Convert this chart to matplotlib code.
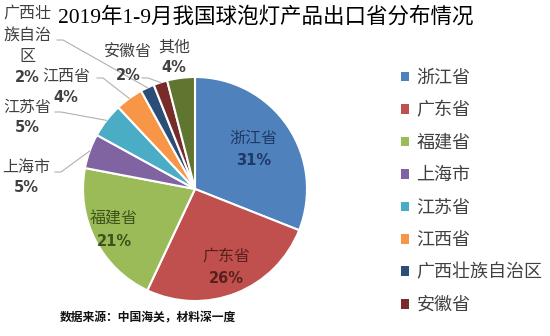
import matplotlib.pyplot as plt
import numpy as np
from matplotlib.patches import Patch
from matplotlib.lines import Line2D

CJK = ['Noto Sans CJK SC', 'DejaVu Sans']
TITLE_FONT = ['Liberation Serif', 'Noto Sans CJK SC']
plt.rcParams['font.family'] = CJK

W, H = 550, 336

# export share by province, Jan-Sep 2019 (%)
provinces = ['浙江省', '广东省', '福建省', '上海市', '江苏省', '江西省',
             '广西壮族自治区', '安徽省', '其他']
shares = [31, 26, 21, 5, 5, 4, 2, 2, 4]
colors = ['#4F81BD', '#C0504D', '#9BBB59', '#8064A2', '#4BACC6', '#F79646',
          '#2C4D75', '#772C2A', '#5F7530']
label_colors = ['#1F3864', '#5A1F1D', '#3E5219']


def px(x, y):
    """pixel position (top-left origin) -> figure fraction"""
    return x / W, 1 - y / H


fig = plt.figure(figsize=(W / 100, H / 100), dpi=100)
fig.patch.set_facecolor('white')

# pie centred at (195, 189) px, radius 112 px
cx, cy, r = 195, 189, 112
ax = fig.add_axes([(cx - r) / W, (H - cy - r) / H, 2 * r / W, 2 * r / H])
wedges, _ = ax.pie(shares, colors=colors, startangle=90, counterclock=False,
                   wedgeprops=dict(edgecolor='white', linewidth=1.5))
ax.set_xlim(-1, 1)
ax.set_ylim(-1, 1)
ax.set_aspect('equal')
ax.axis('off')

mid = [np.deg2rad((w.theta1 + w.theta2) / 2) for w in wedges]

# labels inside the three big slices
inner_r = [0.63, 0.75, 0.81]
for i, rr in enumerate(inner_r):
    x, y = rr * np.cos(mid[i]), rr * np.sin(mid[i])
    ax.text(x, y + 0.1, provinces[i], ha='center', va='center',
            fontsize=11.5, color=label_colors[i])
    ax.text(x, y - 0.1, f'{shares[i]}%', ha='center', va='center',
            fontsize=10.5, fontweight='bold', color=label_colors[i],
            family='DejaVu Sans')

# outside labels: (centre x, name line ys, pct y, leader start or None)
outside = {
    3: (26, [167], 188, (55, 172)),
    4: (27, [107], 127, (55, 112)),
    5: (66, [76], 97, (97, 78)),
    6: (27, [13, 35, 56], 78, (57, 40)),
    7: (128, [52], 75, (142, 78)),
    8: (174, [47], 67, None),
}
name_lines = {6: ['广西壮', '族自治', '区']}
for i, (tx, ys, py, start) in outside.items():
    lines = name_lines.get(i, [provinces[i]])
    for s, ty in zip(lines, ys):
        fig.text(*px(tx, ty), s, ha='center', va='center', fontsize=11.5,
                 color='#404040')
    fig.text(*px(tx, py), f'{shares[i]}%', ha='center', va='center',
             fontsize=10.5, fontweight='bold', color='#404040',
             family='DejaVu Sans')
    if start is not None:
        ex, ey = ax.transData.transform((np.cos(mid[i]), np.sin(mid[i])))
        ey = H - ey
        sx, sy = start
        xs = [sx, sx + 6, ex]
        ys_ = [sy, sy, ey]
        fig.add_artist(Line2D([x / W for x in xs], [1 - y / H for y in ys_],
                              transform=fig.transFigure, color='#B0B0B0',
                              linewidth=0.8))

fig.text(*px(266, 17), '2019年1-9月我国球泡灯产品出口省分布情况', ha='center',
         va='center', fontsize=15.5, family=TITLE_FONT, color='#000000')

handles = [Patch(facecolor=c, edgecolor='none') for c in colors[:8]]
fig.legend(handles, provinces[:8], loc='upper left',
           bbox_to_anchor=px(392, 60), frameon=False, fontsize=13,
           handlelength=0.45, handleheight=0.45, handletextpad=0.4,
           labelspacing=0.8, labelcolor='#404040', borderpad=0)

fig.text(*px(148, 318), '数据来源：中国海关，材料深一度', ha='center',
         va='center', fontsize=8.5, fontweight='bold', color='#111111')

fig.savefig('out.png', dpi=100)
